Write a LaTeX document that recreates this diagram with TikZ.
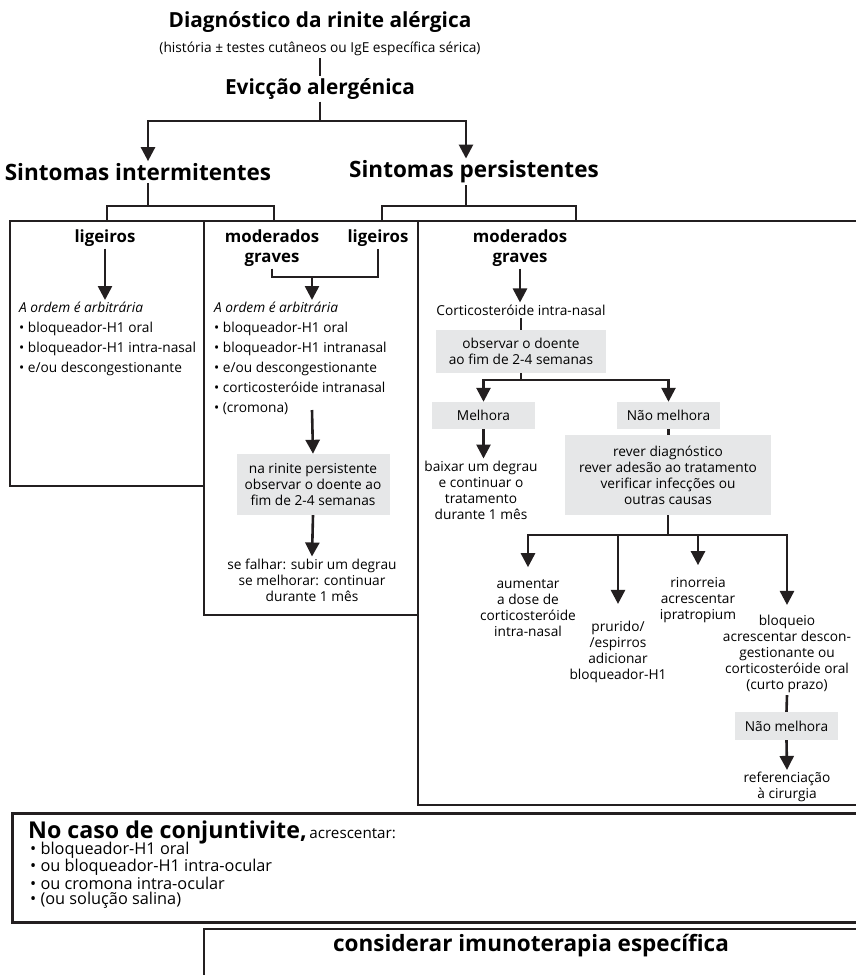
\documentclass[tikz,border=0pt]{standalone}
\usepackage{fontspec}
\setmainfont{Open Sans}
\usetikzlibrary{arrows.meta}
\definecolor{jet}{HTML}{231F20}
\definecolor{box-gray}{HTML}{E6E7E8}
\newcommand{\txtbody}{\fontsize{13.7}{16}\selectfont}
\newcommand{\txtlist}{\fontsize{13.7}{20}\selectfont}
\newcommand{\txtsub}{\bfseries\fontsize{16.8}{20}\selectfont}
\newcommand{\txthead}{\bfseries\fontsize{20.8}{24}\selectfont}
\newcommand{\txtbig}{\bfseries\fontsize{22.5}{26}\selectfont}

\begin{document}
\begin{tikzpicture}[x=1pt, y=-1pt,
    every node/.style={inner sep=2pt},
    txt/.style={font=\txtbody, align=center},
    lst/.style={font=\txtlist, align=left, anchor=north west},
    sub/.style={font=\txtsub, align=center},
    gbox/.style={fill=box-gray, font=\txtbody, align=center},
    frame/.style={draw=jet, line width=2.6pt, outer sep=0pt, anchor=north west},
    link/.style={draw=jet, line width=2.6pt},
    arr/.style={link, -{Triangle[length=14pt, width=14pt]}}]
    \useasboundingbox (0,0) rectangle (856,975);
    \clip (0,0) rectangle (856,975);

    \node[frame, minimum width=194pt, minimum height=265pt] (boxA) at (10,221) {};
    \node[frame, minimum width=214pt, minimum height=394pt] (boxB) at (204,221) {};
    \node[frame, minimum width=450pt, minimum height=584pt] (boxC) at (418,221) {};
    \node[frame, line width=3pt, minimum width=860pt, minimum height=109pt] (boxConj) at (12,813) {};
    \node[frame, minimum width=670pt, minimum height=60pt] (boxImmu) at (204,929) {};

    \node[font=\txthead] (diag) at (320,22) {Diagnóstico da rinite alérgica};
    \node[txt] (hist) at (320,49) {(história ± testes cutâneos ou IgE específica sérica)};
    \node[font=\txthead] (evic) at (320,89) {Evicção alergénica};
    \node[font=\txtbig] (inter) at (138,172) {Sintomas intermitentes};
    \node[font=\txtbig] (pers) at (474,172) {Sintomas persistentes};
    \coordinate (fork) at (320,121);
    \coordinate (forkA) at (148,206);
    \coordinate (forkB) at (466,206);
    \draw[link] (hist.south) -- (evic.north);
    \draw[link] (evic.south) -- (fork);
    \draw[arr] (fork) -| ([xshift=10pt]inter.north);
    \draw[arr] (fork) -| ([xshift=-8pt]pers.north);
    \draw[link] (inter.south -| forkA) -- (forkA);
    \draw[link] (boxA.north) |- (forkA) -| ([xshift=70pt]boxB.north west);
    \draw[link] (pers.south -| forkB) -- (forkB);
    \draw[link] ([xshift=-36pt]boxC.north west) |- (forkB) -| ([xshift=158pt]boxC.north west);

    \node[sub] (ligA) at (105,238) {ligeiros};
    \node[lst] (listA) at (17,300) {\textit{A ordem é arbitrária}\\• bloqueador-H1 oral\\•
      bloqueador-H1 intra-nasal\\• e/ou descongestionante};
    \draw[arr] (ligA.south) -- (ligA.south |- listA.north);

    \node[sub] (modB) at (272,248) {moderados\\graves};
    \node[sub] (ligB) at (378,238) {ligeiros};
    \coordinate (joinB) at (312,277);
    \coordinate (cromB) at (312,410);
    \node[lst] (listB) at (212,300) {\textit{A ordem é arbitrária}\\• bloqueador-H1 oral\\•
      bloqueador-H1 intranasal\\• e/ou descongestionante\\• corticosteróide intranasal\\• (cromona)};
    \node[gbox, minimum width=153pt, minimum height=61pt] (obsB) at (313,484.5)
      {na rinite persistente\\observar o doente ao\\fim de 2-4 semanas};
    \node[txt] (resB) at (312,580) {se falhar: subir um degrau\\se melhorar: continuar\\durante 1 mês};
    \draw[link] (modB.south) |- (joinB) -| (ligB.south);
    \draw[arr] (joinB) -- (joinB |- listB.north);
    \draw[arr] (cromB) -- (obsB.north);
    \draw[arr] (obsB.south) -- (resB.north);

    \node[sub] (modC) at (520,248) {moderados\\graves};
    \node[txt] (cortC) at (521,310) {Corticosteróide intra-nasal};
    \node[gbox, minimum width=170pt, minimum height=43pt] (obsC) at (521,351.5)
      {observar o doente\\ao fim de 2-4 semanas};
    \coordinate (forkC) at (521,380);
    \node[gbox, minimum width=103pt, minimum height=27pt] (melC) at (483.5,415.5) {Melhora};
    \node[gbox, minimum width=103pt, minimum height=27pt] (naoC) at (668.5,415.5) {Não melhora};
    \node[txt] (baixC) at (481,490) {baixar um degrau\\e continuar o\\tratamento\\durante 1 mês};
    \node[gbox, minimum width=206pt, minimum height=80pt] (revC) at (668,475)
      {rever diagnóstico\\rever adesão ao tratamento\\verificar infecções ou\\outras causas};
    \draw[arr] (modC.south) -- (modC.south |- cortC.north);
    \draw[link] (cortC.south) -- (obsC.north);
    \draw[link] (obsC.south) -- (forkC);
    \draw[arr] (forkC) -| (melC.north);
    \draw[arr] (forkC) -| (naoC.north);
    \draw[arr] (melC.south) -- (melC.south |- baixC.north);
    \draw[link] (naoC.south) -- (naoC.south |- revC.north);

    \coordinate (forkD) at (668,535);
    \node[txt] (aumC) at (528,608) {aumentar\\a dose de\\corticosteróide\\intra-nasal};
    \node[txt] (prurC) at (618,652) {prurido/\\/espirros\\adicionar\\bloqueador-H1};
    \node[txt] (rinC) at (698,600) {rinorreia\\acrescentar\\ipratropium};
    \node[txt] (bloqC) at (787,654) {bloqueio\\acrescentar descon-\\gestionante ou\\corticosteróide oral\\(curto prazo)};
    \node[gbox, minimum width=103pt, minimum height=28pt] (nao2C) at (786.5,726) {Não melhora};
    \node[txt] (refC) at (787,787) {referenciação\\à cirurgia};
    \draw[link] (revC.south) -- (forkD);
    \draw[arr, shorten >=10pt] (forkD) -| (aumC.north);
    \draw[arr, shorten >=15pt] (forkD) -| (prurC.north);
    \draw[arr, shorten >=10pt] (forkD) -| (rinC.north);
    \draw[arr, shorten >=8pt] (forkD) -| (bloqC.north);
    \draw[link] (bloqC.south) -- (nao2C.north);
    \draw[arr] (nao2C.south) -- (refC.north);

    \node[anchor=west, inner sep=0pt] (conjHead) at (28,832)
      {{\bfseries\fontsize{23.2}{26}\selectfont No caso de conjuntivite,} {\fontsize{15.2}{17}\selectfont acrescentar:}};
    \node[lst, font=\fontsize{16.3}{15.4}\selectfont, inner sep=0pt] (conjList) at (30,842)
      {• bloqueador-H1 oral\\• ou bloqueador-H1 intra-ocular\\• ou cromona intra-ocular\\• (ou solução salina)};
    \node[font=\txtbig] (immu) at (531,946) {considerar imunoterapia específica};
  \end{tikzpicture}
\end{document}
